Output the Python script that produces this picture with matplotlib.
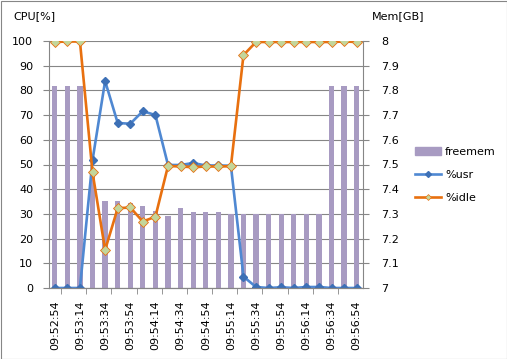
import numpy as np
import matplotlib
matplotlib.use("Agg")
from matplotlib import pyplot as plt
from matplotlib.patches import Rectangle
from matplotlib.lines import Line2D

plt.rcParams.update({
    "font.family": "DejaVu Sans",
    "font.size": 8,
})

# sar samples, 10 s apart
times = ["09:52:54", "09:53:04", "09:53:14", "09:53:24", "09:53:34",
         "09:53:44", "09:53:54", "09:54:04", "09:54:14", "09:54:24",
         "09:54:34", "09:54:44", "09:54:54", "09:55:04", "09:55:14",
         "09:55:24", "09:55:34", "09:55:44", "09:55:54", "09:56:04",
         "09:56:14", "09:56:24", "09:56:34", "09:56:44", "09:56:54"]
usr = [0, 0, 0, 51.8, 83.8, 66.8, 66.5, 71.6, 70.0, 49.8,
       49.8, 50.6, 49.6, 49.6, 49.5, 4.6, 0.4, 0.0, 0.3, 0.0,
       0.4, 0.4, 0.0, 0.0, 0.0]
idle = [99.6, 99.8, 99.8, 46.8, 15.4, 32.3, 32.6, 26.9, 28.9, 49.4,
        49.2, 48.9, 49.2, 49.2, 49.3, 94.3, 99.6, 99.6, 99.6, 99.6,
        99.6, 99.6, 99.6, 99.8, 99.6]
freemem = [7.818, 7.818, 7.818, 7.47, 7.352, 7.352, 7.343, 7.331, 7.31, 7.293,
           7.325, 7.309, 7.309, 7.309, 7.300, 7.300, 7.300, 7.300, 7.300, 7.300,
           7.300, 7.300, 7.818, 7.818, 7.818]

W, H = 507, 359
grey = "#868686"
c_bar = "#A89BC2"
c_usr = "#4F88D2"
c_usr_m = "#3D70B6"
c_idle = "#E8700F"
c_idle_m = "#C3D69B"

fig = plt.figure(figsize=(W / 100, H / 100), dpi=100)
fig.patches.append(Rectangle((0.5 / W, 0.5 / H), 1 - 1 / W, 1 - 1 / H,
                             transform=fig.transFigure, fill=False,
                             edgecolor=grey, lw=0.8))

# memory axis first so the cpu lines end up on top
axm = fig.add_axes([48.5 / W, 1 - 288 / H, 314.5 / W, 247 / H])
ax = axm.twinx()
axm.yaxis.tick_right()
ax.yaxis.tick_left()

x = np.arange(len(times))
axm.bar(x, freemem, width=0.42, color=c_bar, zorder=2, label="freemem")
axm.set_ylim(7, 8)
axm.set_yticks(np.round(np.arange(7, 8.01, 0.1), 1))
axm.set_yticklabels(["7", "7.1", "7.2", "7.3", "7.4", "7.5", "7.6",
                     "7.7", "7.8", "7.9", "8"])
axm.grid(axis="y", color=grey, lw=0.8, zorder=0)
axm.set_axisbelow(True)

ax.plot(x, usr, color=c_usr, lw=1.9, marker="D", ms=4.5,
        mfc=c_usr_m, mec=c_usr_m, label="%usr")
ax.plot(x, idle, color=c_idle, lw=1.9, marker="D", ms=5,
        mfc=c_idle_m, mec=c_idle, mew=0.6, label="%idle")
ax.set_ylim(0, 100)
ax.set_yticks(np.arange(0, 101, 10))
ax.set_xlim(-0.5, len(times) - 0.5)

for a in (ax, axm):
    for s in a.spines.values():
        s.set_color(grey)
    a.spines["top"].set_visible(False)
ax.spines["right"].set_visible(False)
axm.spines["left"].set_visible(False)

ax.tick_params(axis="y", length=4, color=grey, pad=7, labelsize=8)
axm.tick_params(axis="y", length=4, color=grey, pad=9, labelsize=8)

axm.set_xticks(x[::2])
axm.set_xticklabels(times[::2], rotation=90, va="top")
axm.set_xticks(np.arange(0.5, len(times) - 0.5, 2), minor=True)
axm.tick_params(axis="x", which="major", length=0, pad=9, labelsize=8)
axm.tick_params(axis="x", which="minor", length=4, color=grey)
ax.tick_params(axis="x", bottom=False, labelbottom=False)

fig.text(13 / W, 1 - 16 / H, "CPU[%]", va="center", ha="left", fontsize=8)
fig.text(372 / W, 1 - 16 / H, "Mem[GB]", va="center", ha="left", fontsize=8)

handles = [Rectangle((0, 0), 1, 1, color=c_bar),
           Line2D([], [], color=c_usr, lw=1.9, marker="D", ms=3,
                  mfc=c_usr_m, mec=c_usr_m),
           Line2D([], [], color=c_idle, lw=1.9, marker="D", ms=3,
                  mfc=c_idle_m, mec=c_idle, mew=0.5)]
fig.legend(handles, ["freemem", "%usr", "%idle"], loc="upper left",
           bbox_to_anchor=(415 / W, 1 - 147 / H), frameon=False,
           borderpad=0, borderaxespad=0, handlelength=2.3,
           handletextpad=0.4, labelspacing=1.15, fontsize=8)

fig.savefig("out.png", dpi=100)
